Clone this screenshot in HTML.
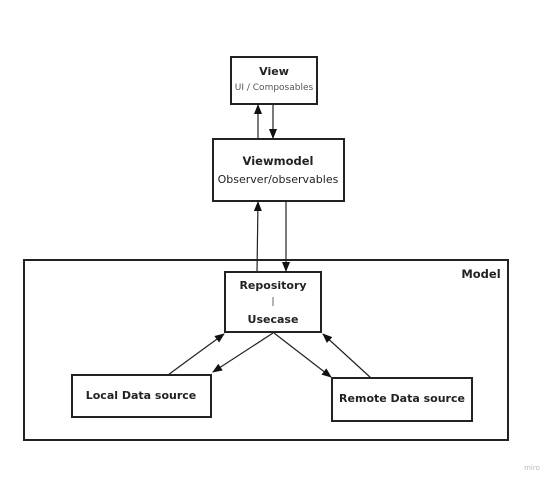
<!DOCTYPE html>
<html><head><style>
body{margin:0;background:#fff;width:554px;height:487px;overflow:hidden;font-family:"DejaVu Sans","Liberation Sans",sans-serif}
</style></head><body>
<svg width="554" height="487" xmlns="http://www.w3.org/2000/svg" style="position:absolute;left:0;top:0">
<defs><marker id="a" markerWidth="10" markerHeight="8" refX="9" refY="4" orient="auto" markerUnits="userSpaceOnUse"><path d="M0,0 L10,4 L0,8 z" fill="#111"/></marker></defs>
<g fill="none" stroke="#222" stroke-width="2">
<rect x="24" y="260" width="484" height="180"/>
<rect x="231" y="57" width="86" height="47"/>
<rect x="213" y="139" width="131" height="62"/>
<rect x="225" y="272" width="96" height="60"/>
<rect x="72" y="375" width="139" height="42"/>
<rect x="332" y="378" width="140" height="43"/>
</g>
<g fill="none" stroke="#222" stroke-width="1.2" marker-end="url(#a)">
<line x1="258" y1="139" x2="258" y2="105"/>
<line x1="273" y1="104" x2="273" y2="138"/>
<line x1="257" y1="272" x2="258" y2="202"/>
<line x1="286" y1="201" x2="286" y2="271"/>
<path d="M168,375 Q195,355 224,334"/>
<line x1="273" y1="333" x2="213" y2="372"/>
<line x1="274" y1="333" x2="331" y2="377"/>
<line x1="371" y1="378" x2="323" y2="334"/>
</g>
<g font-family="DejaVu Sans, Liberation Sans, sans-serif" fill="#222" text-anchor="middle">
<text x="274" y="75" font-size="11" font-weight="bold">View</text>
<text x="274" y="90" font-size="9" fill="#555">UI / Composables</text>
<text x="278" y="165" font-size="11.5" font-weight="bold">Viewmodel</text>
<text x="278" y="183" font-size="11">Observer/observables</text>
<text x="273" y="289" font-size="11" font-weight="bold">Repository</text>
<line x1="273" y1="297" x2="273" y2="306" stroke="#444" stroke-width="0.8"/>
<text x="273" y="323" font-size="11" font-weight="bold">Usecase</text>
<text x="141" y="399" font-size="11" font-weight="bold">Local Data source</text>
<text x="402" y="402" font-size="11" font-weight="bold">Remote Data source</text>
<text x="481" y="278" font-size="11.5" font-weight="bold">Model</text>
<text x="532" y="470" font-size="7" fill="#bbb">miro</text>
</g>
</svg>
</body></html>
